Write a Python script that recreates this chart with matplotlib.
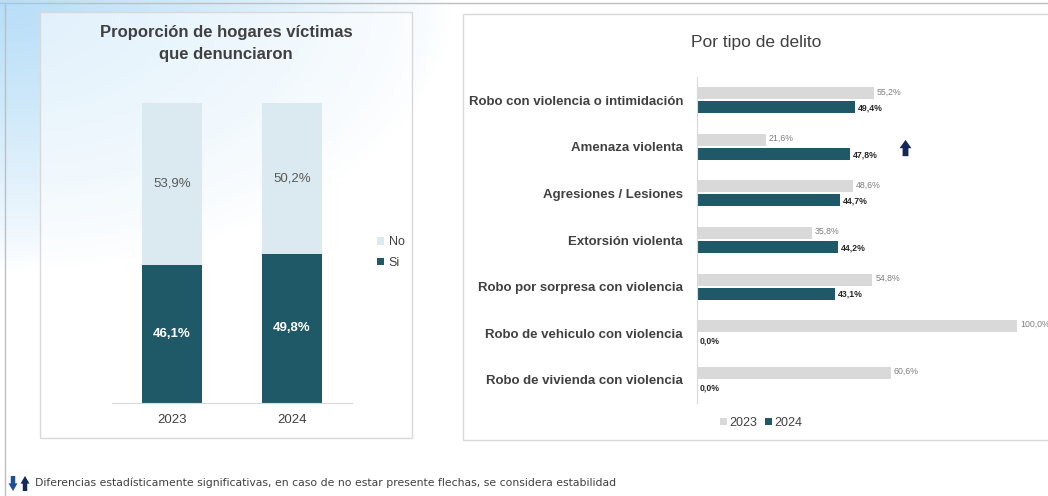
import matplotlib
matplotlib.use("Agg")
import matplotlib.pyplot as plt
import matplotlib.transforms as mtransforms
from matplotlib.patches import Rectangle
import numpy as np

# data
years = ["2023", "2024"]
si = [46.1, 49.8]
no = [53.9, 50.2]

delitos = ["Robo con violencia o intimidación", "Amenaza violenta",
           "Agresiones / Lesiones", "Extorsión violenta",
           "Robo por sorpresa con violencia", "Robo de vehiculo con violencia",
           "Robo de vivienda con violencia"]
v2023 = [55.2, 21.6, 48.6, 35.8, 54.8, 100.0, 60.6]
v2024 = [49.4, 47.8, 44.7, 44.2, 43.1, 0.0, 0.0]
sube = [False, True, False, False, False, False, False]

nota = "Diferencias estadísticamente significativas, en caso de no estar presente flechas, se considera estabilidad"

W, H = 1048, 496
teal = "#1f5968"
light = "#dbeaf1"
gray = "#d9d9d9"
txt = "#404040"
navy = "#14285a"
arrow_big = "simple,head_width=0.85,head_length=0.6,tail_width=0.42"
arrow_small = "simple,head_width=0.65,head_length=0.55,tail_width=0.32"

plt.rcParams["font.family"] = ["Liberation Sans", "DejaVu Sans"]

fig = plt.figure(figsize=(W / 100, H / 100), dpi=100)


def px(x0, y0, w, h):
    # pixel box (top-left origin) -> figure fraction
    return [x0 / W, 1 - (y0 + h) / H, w / W, h / H]


def pct(v):
    return f"{v:.1f}%".replace(".", ",")


# background gradient (light blue in the top-left corner)
bg = fig.add_axes([0, 0, 1, 1], zorder=-10)
xx, yy = np.meshgrid(np.linspace(0, W, 300), np.linspace(0, H, 150))
a = np.clip(1 - np.sqrt((xx / 450) ** 2 + (yy / 270) ** 2), 0, 1) ** 0.8
c0 = np.array([1.0, 1.0, 1.0])
c1 = np.array([0.72, 0.87, 0.97])
img = c0[None, None, :] * (1 - a[..., None]) + c1[None, None, :] * a[..., None]
bg.imshow(img, extent=[0, W, H, 0], aspect="auto")
bg.set_xlim(0, W)
bg.set_ylim(H, 0)
bg.axis("off")
# outer frame lines
bg.plot([0, W], [3, 3], color="#bfbfbf", lw=1)
bg.plot([5, 5], [3, H], color="#bfbfbf", lw=1)
# panel boxes
bg.add_patch(Rectangle((40, 12), 372, 426, facecolor=(1, 1, 1, 0.55),
                       edgecolor=gray, lw=1))
bg.add_patch(Rectangle((463, 14), 600, 426, facecolor="white",
                       edgecolor=gray, lw=1))

# ---------- left panel: stacked bars ----------
ax1 = fig.add_axes(px(112, 103, 240, 300))
x = np.arange(len(years))
ax1.bar(x, si, width=0.5, color=teal, label="Si")
ax1.bar(x, no, width=0.5, bottom=si, color=light, label="No")
for i in range(len(years)):
    ax1.text(x[i], si[i] / 2, pct(si[i]), ha="center", va="center",
             color="white", fontsize=9.5, fontweight="bold")
    ax1.text(x[i], si[i] + no[i] / 2, pct(no[i]), ha="center", va="center",
             color="#595959", fontsize=9.5)
ax1.set_xlim(-0.5, 1.5)
ax1.set_ylim(0, 100)
ax1.set_xticks(x)
ax1.set_xticklabels(years, fontsize=9.5, color=txt)
ax1.tick_params(axis="x", length=0, pad=8)
ax1.set_yticks([])
for s in ["top", "right", "left"]:
    ax1.spines[s].set_visible(False)
ax1.spines["bottom"].set_color(gray)
ax1.patch.set_alpha(0)
fig.text(226 / W, 1 - 33 / H, "Proporción de hogares víctimas", ha="center",
         va="center", fontsize=12, fontweight="bold", color=txt)
fig.text(226 / W, 1 - 55 / H, "que denunciaron", ha="center",
         va="center", fontsize=12, fontweight="bold", color=txt)
h, l = ax1.get_legend_handles_labels()
ax1.legend(h[::-1], l[::-1], loc="upper left",
           bbox_to_anchor=(366 / W, 1 - 225 / H), bbox_transform=fig.transFigure,
           frameon=False, fontsize=9, handlelength=0.55, handleheight=0.55,
           handletextpad=0.35, labelspacing=0.7, labelcolor=txt)

# ---------- right panel: horizontal bars ----------
ax2 = fig.add_axes(px(697, 77, 320, 326))
y = np.arange(len(delitos))
ax2.barh(y - 0.15, v2023, height=0.26, color=gray, label="2023")
ax2.barh(y + 0.15, v2024, height=0.26, color=teal, label="2024")
for i in range(len(delitos)):
    ax2.text(v2023[i] + 0.9, y[i] - 0.18, pct(v2023[i]), ha="left",
             va="center", fontsize=6.3, color="#7f7f7f", clip_on=False)
    ax2.text(v2024[i] + 0.9, y[i] + 0.17, pct(v2024[i]), ha="left",
             va="center", fontsize=6.3, color="#262626", fontweight="bold",
             clip_on=False)
    if sube[i]:
        tr = mtransforms.offset_copy(ax2.transData, fig=fig, x=40, y=0,
                                     units="points")
        ax2.annotate("", xy=(v2024[i], y[i] - 0.15), xycoords=tr,
                     xytext=(v2024[i], y[i] + 0.2), textcoords=tr,
                     arrowprops=dict(arrowstyle=arrow_big, color=navy, lw=0,
                                     shrinkA=0, shrinkB=0))
ax2.set_xlim(0, 100)
ax2.set_ylim(len(delitos) - 0.5, -0.5)
ax2.set_yticks(y)
ax2.set_yticklabels(delitos, fontsize=9.5, fontweight="bold", color=txt)
ax2.tick_params(axis="y", length=0, pad=10)
ax2.set_xticks([])
for s in ["top", "right", "bottom"]:
    ax2.spines[s].set_visible(False)
ax2.spines["left"].set_color(gray)
ax2.patch.set_alpha(0)
fig.text(756 / W, 1 - 42 / H, "Por tipo de delito", ha="center", va="center",
         fontsize=12.5, color=txt)
ax2.legend(loc="center", bbox_to_anchor=(761 / W, 1 - 423 / H),
           bbox_transform=fig.transFigure, ncol=2, frameon=False, fontsize=9,
           handlelength=0.55, handleheight=0.55, handletextpad=0.2,
           columnspacing=0.6, labelcolor=txt)

# ---------- footnote ----------
bg.annotate("", xy=(13, 491), xytext=(13, 476),
            arrowprops=dict(arrowstyle=arrow_small, color="#1f4e99", lw=0,
                            shrinkA=0, shrinkB=0))
bg.annotate("", xy=(25, 476), xytext=(25, 491),
            arrowprops=dict(arrowstyle=arrow_small, color=navy, lw=0,
                            shrinkA=0, shrinkB=0))
fig.text(35 / W, 1 - 483 / H, nota, ha="left", va="center", fontsize=7.8,
         color="#404040", family="DejaVu Sans")

fig.savefig("out.png", dpi=100)
